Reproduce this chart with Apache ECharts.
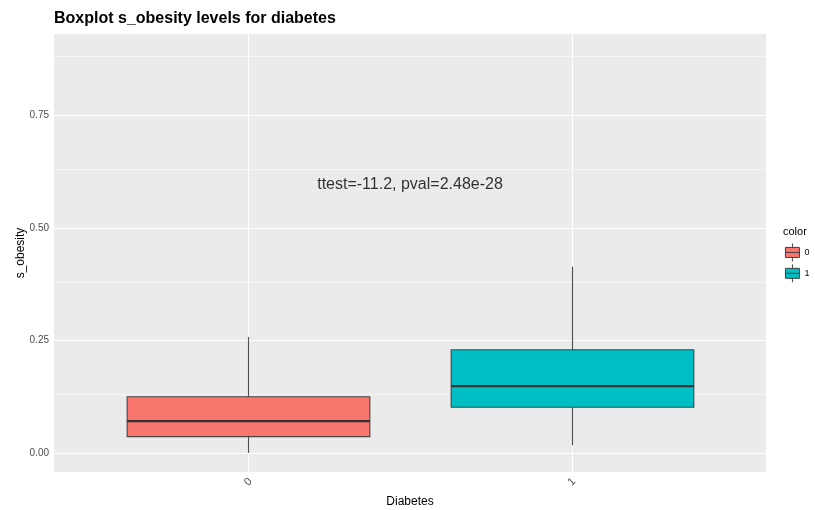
<!DOCTYPE html>
<html>
<head>
<meta charset="utf-8">
<script src="https://cdn.jsdelivr.net/npm/echarts@6/dist/echarts.min.js"></script>
<style>html,body{margin:0;padding:0;background:#fff;}#c{width:815px;height:510px;}</style>
</head>
<body>
<div id="c"></div>
<script>
// ---- data ----
const categories = ['0', '1'];
const colors = ['#F8766D', '#00BFC4'];
const lowWhisker = [0.001, 0.018];
const q1 = [0.037, 0.102];
const median = [0.0715, 0.149];
const q3 = [0.1255, 0.2297];
const highWhisker = [0.258, 0.414];
const yTicks = [0, 0.25, 0.5, 0.75];
const yMinorTicks = [0.125, 0.375, 0.625, 0.875];
const annotation = 'ttest=-11.2, pval=2.48e-28';
const annotationPos = [0.5, 0.6];

const chart = echarts.init(document.getElementById('c'), null, {renderer: 'canvas'});
const FONT = 'Liberation Sans, Arial, Helvetica, sans-serif';

function renderBox(params, api) {
  const x = api.value(0);
  const lo = api.coord([x, api.value(1)]);
  const a = api.coord([x, api.value(2)]);
  const m = api.coord([x, api.value(3)]);
  const b = api.coord([x, api.value(4)]);
  const hi = api.coord([x, api.value(5)]);
  const w = api.size([0.75, 0])[0];
  const cx = Math.round(a[0]) + 0.5;
  const left = cx - w / 2;
  const fill = api.visual('color');
  return {
    type: 'group',
    children: [
      {type: 'line', shape: {x1: cx, y1: hi[1], x2: cx, y2: b[1]}, style: {stroke: '#333', lineWidth: 1.1, opacity: 0.85}},
      {type: 'line', shape: {x1: cx, y1: a[1], x2: cx, y2: lo[1]}, style: {stroke: '#333', lineWidth: 1.1, opacity: 0.85}},
      {type: 'rect', shape: {x: left, y: b[1], width: w, height: a[1] - b[1]}, style: {fill: fill, stroke: '#333', lineWidth: 1.1, strokeOpacity: 0.85}},
      {type: 'line', shape: {x1: left, y1: m[1], x2: left + w, y2: m[1]}, style: {stroke: '#333', lineWidth: 2.2}}
    ]
  };
}

const gridLines = [];
yTicks.forEach(v => gridLines.push({yAxis: v, lineStyle: {width: 1.1}}));
yMinorTicks.forEach(v => gridLines.push({yAxis: v, lineStyle: {width: 0.55}}));
categories.forEach((c, i) => gridLines.push({xAxis: i, lineStyle: {width: 1.1}}));

const boxSeries = categories.map((c, i) => ({
  name: c,
  type: 'custom',
  renderItem: renderBox,
  itemStyle: {color: colors[i], borderColor: '#333', borderWidth: 0.9},
  encode: {x: 0, y: [1, 2, 3, 4, 5]},
  data: [[i, lowWhisker[i], q1[i], median[i], q3[i], highWhisker[i]]],
  zlevel: 1,
  silent: true
}));

chart.setOption({
  animation: false,
  textStyle: {fontFamily: FONT},
  title: [
    {text: 'Boxplot s_obesity levels for diabetes', left: 54, top: 11, padding: 0,
     textStyle: {fontFamily: FONT, fontSize: 16, fontWeight: 'bold', color: '#000'}},
    {text: 'color', left: 783, top: 226, padding: 0,
     textStyle: {fontFamily: FONT, fontSize: 11, fontWeight: 'normal', color: '#000'}}
  ],
  legend: {
    data: categories,
    orient: 'vertical',
    left: 785, top: 243, padding: 0,
    itemWidth: 14, itemHeight: 18, itemGap: 2,
    icon: 'path://M7,0L7,4M0,4L14,4L14,14L0,14ZM0,9L14,9M7,14L7,18',
    itemStyle: {borderColor: '#333', borderWidth: 0.9},
    textStyle: {fontFamily: FONT, fontSize: 9, color: '#000'},
    selectedMode: false
  },
  grid: {left: 54, right: 49, top: 34, bottom: 38, show: true, backgroundColor: '#EBEBEB', borderWidth: 0, outerBoundsMode: 'none', containLabel: false},
  xAxis: {
    type: 'value', min: -0.6, max: 1.6,
    name: 'Diabetes', nameLocation: 'middle', nameGap: 24, nameMoveOverlap: false,
    nameTextStyle: {fontFamily: FONT, fontSize: 12, color: '#000'},
    axisLine: {show: false},
    axisTick: {show: true, customValues: [0, 1], length: 3, lineStyle: {color: '#333'}},
    axisLabel: {customValues: [0, 1], formatter: v => categories[Math.round(v)], rotate: 45, align: 'center', verticalAlign: 'middle', fontSize: 11, color: '#4D4D4D', margin: 10},
    splitLine: {show: false}
  },
  yAxis: {
    type: 'value', min: -0.0415, max: 0.93,
    name: 's_obesity', nameLocation: 'middle', nameGap: 27, nameRotate: 90, nameMoveOverlap: false,
    nameTextStyle: {fontFamily: FONT, fontSize: 12, color: '#000'},
    axisLine: {show: false},
    axisTick: {show: true, customValues: yTicks, length: 3, lineStyle: {color: '#333'}},
    axisLabel: {customValues: yTicks, formatter: v => v.toFixed(2), fontSize: 10, color: '#4D4D4D', margin: 5},
    splitLine: {show: false}
  },
  series: [
    {
      type: 'line', data: [], silent: true, z: 1,
      markLine: {silent: true, symbol: 'none', label: {show: false}, animation: false,
        lineStyle: {color: '#FFFFFF', type: 'solid'}, data: gridLines}
    },
    ...boxSeries,
    {
      type: 'scatter', data: [annotationPos], symbolSize: 0, zlevel: 1, silent: true,
      label: {show: true, position: 'inside', offset: [0, 2], formatter: annotation, fontFamily: FONT, fontSize: 16, color: '#000'}
    }
  ]
});
</script>
</body>
</html>
